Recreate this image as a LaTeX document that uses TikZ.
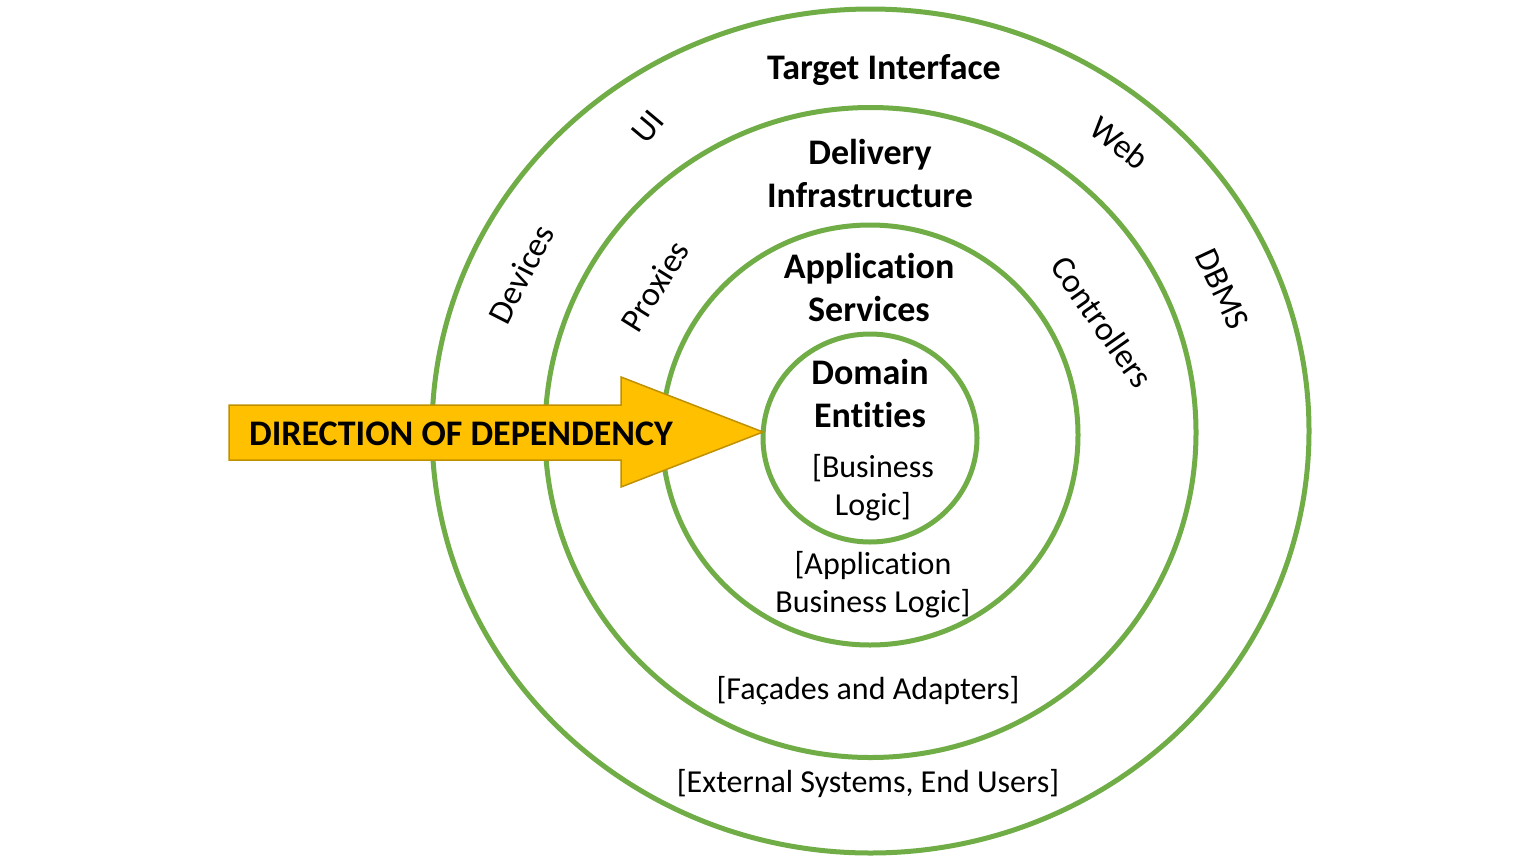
\documentclass[tikz,border=0pt]{standalone}
\usepackage{fontspec}
\setmainfont{Carlito}[Ligatures=NoCommon]
\definecolor{ringgreen}{HTML}{70AD47}
\definecolor{arrowfill}{HTML}{FFC000}
\definecolor{arrowedge}{HTML}{BF9000}
\tikzset{
  ring/.style={draw=ringgreen, line width=5pt},
  boldlbl/.style={font=\fontsize{36}{43}\selectfont\bfseries, align=center, inner sep=0pt},
  plainlbl/.style={font=\fontsize{32}{38}\selectfont, align=center, inner sep=0pt},
  sidelbl/.style={font=\fontsize{34}{40}\selectfont, inner sep=0pt}
}
\begin{document}
\begin{tikzpicture}[x=1pt,y=-1pt]
\useasboundingbox (0,0) rectangle (1538,865);
\fill[white] (0,0) rectangle (1538,865);
\draw[ring] (870.5,431) ellipse [x radius=438.5, y radius=422];
\draw[ring] (870.5,432.5) ellipse [x radius=325.5, y radius=325];
\draw[ring] (870,435) ellipse [x radius=208, y radius=210];
\draw[ring] (870,438) ellipse [x radius=107, y radius=104];
\coordinate (tip) at (763,432);
\draw[fill=arrowfill, draw=arrowedge, line width=1.5pt, line join=miter]
  (229,405) -- (621,405) -- (621,377) -- (tip) -- (621,487) -- (621,460) -- (229,460) -- cycle;
\node[boldlbl] (dep) at (461,434) {DIRECTION OF DEPENDENCY};
\node[boldlbl] (ti) at (884,70) {Target Interface};
\node[boldlbl] (di) at (870,173) {Delivery\\Infrastructure};
\node[boldlbl] (as) at (869,287) {Application\\Services};
\node[boldlbl] (de) at (870,393) {Domain\\Entities};
\node[plainlbl] (bl) at (873,488) {[Business\\Logic]};
\node[plainlbl] (abl) at (873,585) {[Application\\Business Logic]};
\node[plainlbl] (fa) at (868,691) {[Façades and Adapters]};
\node[plainlbl] (es) at (868,784) {[External Systems, End Users]};
\node[sidelbl, rotate=50] (ui) at (648,127) {UI};
\node[sidelbl, rotate=-38] (web) at (1120,143) {Web};
\node[sidelbl, rotate=-65] (dbms) at (1222,289) {DBMS};
\node[sidelbl, rotate=-55] (ctl) at (1102,322) {Controllers};
\node[sidelbl, rotate=63] (dev) at (521,274) {Devices};
\node[sidelbl, rotate=58] (prx) at (655,286) {Proxies};
\end{tikzpicture}
\end{document}
